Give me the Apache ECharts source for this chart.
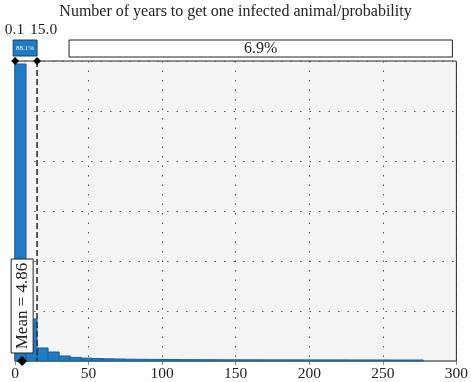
<!DOCTYPE html>
<html>
<head>
<meta charset="utf-8">
<script src="https://cdn.jsdelivr.net/npm/echarts@6/dist/echarts.min.js"></script>
<style>html,body{margin:0;padding:0;background:#fff;}#c{width:471px;height:382px;}</style>
</head>
<body>
<div id="c"></div>
<script>
var titleText = 'Number of years to get one infected animal/probability';
var binWidth = 7.5;
var binValues = [0.7425, 0.105, 0.0325, 0.0225, 0.0125, 0.009, 0.0072, 0.0062, 0.0055, 0.005,
  0.0045, 0.0042, 0.004, 0.0038, 0.0036, 0.0034, 0.0033, 0.0032, 0.0031, 0.003,
  0.003, 0.003, 0.0029, 0.0029, 0.0028, 0.0028, 0.0028, 0.0027, 0.0027, 0.0027,
  0.0026, 0.0026, 0.0026, 0.0026, 0.0025, 0.0025, 0.0025];
var xTicks = [0, 50, 100, 150, 200, 250, 300];
var delimiters = [0.1, 15.0];
var delimiterLabels = ['0.1', '15.0'];
var middlePct = '88.1%';
var rightPct = '6.9%';
var meanValue = 4.86;
var meanLabel = 'Mean = 4.86';

var serif = '"Liberation Serif", "DejaVu Serif", serif';
var yMax = 0.75;

var histData = binValues.map(function (v, i) { return [i * binWidth, (i + 1) * binWidth, v]; });

var chart = echarts.init(document.getElementById('c'));
chart.setOption({
  animation: false,
  title: {
    text: titleText, left: 'center', top: -1,
    textStyle: { fontFamily: serif, fontSize: 16, fontWeight: 'normal', color: '#222' }
  },
  grid: { left: 15, right: 12, top: 61, bottom: 21, show: true, backgroundColor: '#f4f4f4', borderColor: '#222', borderWidth: 1 },
  xAxis: {
    type: 'value', min: xTicks[0], max: xTicks[xTicks.length - 1], interval: 50,
    axisLine: { show: true, lineStyle: { color: '#888', width: 1 } },
    axisTick: { show: true, length: 4, lineStyle: { color: '#888' } },
    axisLabel: { fontFamily: serif, fontSize: 15.5, color: '#222', margin: 5 },
    splitLine: { show: true, lineStyle: { color: '#555', type: [1.5, 8], width: 1 } }
  },
  yAxis: {
    type: 'value', min: 0, max: yMax, interval: 0.125,
    axisLine: { show: false }, axisTick: { show: false }, axisLabel: { show: false },
    splitLine: { show: true, lineStyle: { color: '#555', type: [1.5, 8], width: 1 } }
  },
  series: [
    {
      type: 'custom',
      data: histData,
      renderItem: function (params, api) {
        var p0 = api.coord([api.value(0), api.value(2)]);
        var p1 = api.coord([api.value(1), 0]);
        return {
          type: 'rect',
          shape: { x: p0[0], y: p0[1], width: p1[0] - p0[0], height: p1[1] - p0[1] },
          style: { fill: '#1f7bc6', stroke: '#1a5f9c', lineWidth: 1 }
        };
      },
      z: 3
    },
    {
      type: 'custom',
      data: [[0]],
      clip: false,
      z: 5,
      renderItem: function (params, api) {
        var top = api.coord([0, yMax])[1];
        var bottom = api.coord([0, 0])[1];
        var right = api.coord([xTicks[xTicks.length - 1], 0])[0];
        var d0 = api.coord([delimiters[0], 0])[0];
        var d1 = api.coord([delimiters[1], 0])[0];
        var m = api.coord([meanValue, 0])[0];
        var children = [];
        children.push({ type: 'line', shape: { x1: d1, y1: top, x2: d1, y2: bottom },
          style: { stroke: '#333', lineWidth: 1.6, lineDash: [6, 3] } });
        children.push({ type: 'rect', shape: { x: d0 - 2, y: 40, width: d1 - d0 + 2, height: 16 },
          style: { fill: '#1f7bc6', stroke: '#153e66', lineWidth: 1 } });
        children.push({ type: 'text', x: (d0 - 2 + d1) / 2, y: 48,
          style: { text: middlePct, fill: '#fff', font: '7px ' + serif, align: 'center', verticalAlign: 'middle' } });
        children.push({ type: 'rect', shape: { x: d1 + 32, y: 40, width: right - 4 - (d1 + 32), height: 17 },
          style: { fill: '#fff', stroke: '#222', lineWidth: 1 } });
        children.push({ type: 'text', x: (d1 + 32 + right - 4) / 2, y: 49,
          style: { text: rightPct, fill: '#222', font: '16px ' + serif, align: 'center', verticalAlign: 'middle' } });
        children.push({ type: 'text', x: d0 + 9, y: 30,
          style: { text: delimiterLabels[0], fill: '#222', font: '15.5px ' + serif, align: 'right', verticalAlign: 'middle' } });
        children.push({ type: 'text', x: d1 - 7, y: 30,
          style: { text: delimiterLabels[1], fill: '#222', font: '15.5px ' + serif, align: 'left', verticalAlign: 'middle' } });
        [d0, d1].forEach(function (x) {
          children.push({ type: 'polygon', shape: { points: [[x, top - 4], [x + 4, top], [x, top + 4], [x - 4, top]] },
            style: { fill: '#000' } });
        });
        children.push({ type: 'rect', shape: { x: m - 11, y: 259, width: 22, height: 94 },
          style: { fill: '#fff', stroke: '#222', lineWidth: 1 } });
        children.push({ type: 'text', x: m, y: 306, rotation: Math.PI / 2,
          style: { text: meanLabel, fill: '#222', font: '17px ' + serif, align: 'center', verticalAlign: 'middle' } });
        children.push({ type: 'polygon', shape: { points: [[m, bottom - 5], [m + 5, bottom], [m, bottom + 5], [m - 5, bottom]] },
          style: { fill: '#000' } });
        return { type: 'group', children: children };
      }
    }
  ]
});
</script>
</body>
</html>
